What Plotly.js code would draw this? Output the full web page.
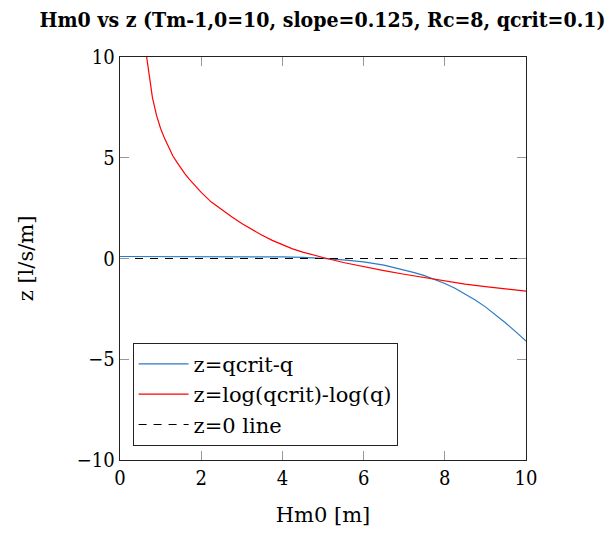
<!DOCTYPE html>
<html>
<head>
<meta charset="utf-8">
<script src="https://cdn.plot.ly/plotly-3.0.1.min.js"></script>
<style>html,body{margin:0;padding:0;background:#fff;}#chart{width:612px;height:534px;}</style>
</head>
<body>
<div id="chart"></div>
<script>
// Hm0 values [m] for z = qcrit - q
const hm0 = [0, 1.0, 2.0, 3.0, 3.5, 4.0, 4.5, 5.0, 5.5, 6.0, 6.5, 7.0, 7.25, 7.5, 7.75, 8.0, 8.25, 8.5, 8.75, 9.0, 9.25, 9.5, 9.75, 10.0];
// z = qcrit - q
const zDiff = [0.1, 0.1, 0.1, 0.098, 0.093, 0.079, 0.052, 0.01, -0.07, -0.17, -0.33, -0.56, -0.7, -0.85, -1.03, -1.24, -1.48, -1.75, -2.06, -2.4, -2.78, -3.2, -3.64, -4.1];
// Hm0 values [m] for z = log(qcrit) - log(q)
const hm0Log = [0.6, 0.8, 0.9, 1.0, 1.1, 1.2, 1.3, 1.4, 1.5, 1.6, 1.7, 1.8, 1.9, 2.0, 2.25, 2.5, 2.75, 3.0, 3.25, 3.5, 3.75, 4.0, 4.25, 4.5, 4.75, 5.0, 5.5, 6.0, 6.5, 7.0, 7.5, 8.0, 8.5, 9.0, 9.5, 10.0];
// z = log(qcrit) - log(q)
const zLog = [10.8, 7.97, 7.1, 6.45, 5.95, 5.5, 5.1, 4.78, 4.48, 4.2, 3.95, 3.72, 3.5, 3.28, 2.8, 2.43, 2.07, 1.74, 1.43, 1.15, 0.9, 0.67, 0.48, 0.32, 0.18, 0.05, -0.2, -0.41, -0.6, -0.78, -0.95, -1.12, -1.27, -1.4, -1.51, -1.62];
// z = 0 reference line
const hm0Zero = [0, 10];
const zZero = [0, 0];
const names = ['z=qcrit-q', 'z=log(qcrit)-log(q)', 'z=0 line'];
const xTicks = [0, 2, 4, 6, 8, 10];
const yTicks = [-10, -5, 0, 5, 10];
const yTickText = ['\u221210', '\u22125', '0', '5', '10'];

const FONT_C = 'DejaVu Serif Condensed, DejaVu Serif, serif';
const FONT = 'DejaVu Serif, serif';
const traces = [
  {x: hm0, y: zDiff, name: names[0], mode: 'lines', line: {color: '#2a7bc4', width: 1.2}},
  {x: hm0Log, y: zLog, name: names[1], mode: 'lines', line: {color: '#ff0000', width: 1.2}},
  {x: hm0Zero, y: zZero, name: names[2], mode: 'lines', line: {color: '#000000', width: 1.2, dash: '8px,7px'}}
];
const axisCommon = {
  showline: true, linecolor: '#222', linewidth: 1.3, mirror: 'ticks',
  ticks: 'inside', ticklen: 9, tickcolor: '#999', tickwidth: 1,
  showgrid: false, zeroline: false,
  tickfont: {family: FONT_C, size: 20, color: '#000'}
};
const layout = {
  width: 612, height: 534,
  margin: {l: 120, r: 86, t: 57, b: 74},
  paper_bgcolor: '#fff', plot_bgcolor: '#fff',
  title: {text: '<b>Hm0 vs z (Tm-1,0=10, slope=0.125, Rc=8, qcrit=0.1)</b>', font: {family: FONT_C, size: 21.1, color: '#000'},
          x: 0.527, xanchor: 'center', y: 0.963, yanchor: 'middle'},
  xaxis: Object.assign({}, axisCommon, {range: [0, 10], tickvals: xTicks,
          title: {text: 'Hm0 [m]', font: {family: FONT, size: 21, color: '#000'}, standoff: 18}}),
  yaxis: Object.assign({}, axisCommon, {range: [-10, 10], tickvals: yTicks, ticktext: yTickText,
          title: {text: 'z [l/s/m]', font: {family: FONT, size: 21, color: '#000'}, standoff: 37}}),
  showlegend: true,
  legend: {x: 0.031, y: 0.291, xanchor: 'left', yanchor: 'top', bgcolor: '#fff',
           bordercolor: '#222', borderwidth: 1, font: {family: FONT, size: 21, color: '#000'},
           itemwidth: 50}
};
Plotly.newPlot('chart', traces, layout, {displayModeBar: false, staticPlot: true});
</script>
</body>
</html>
